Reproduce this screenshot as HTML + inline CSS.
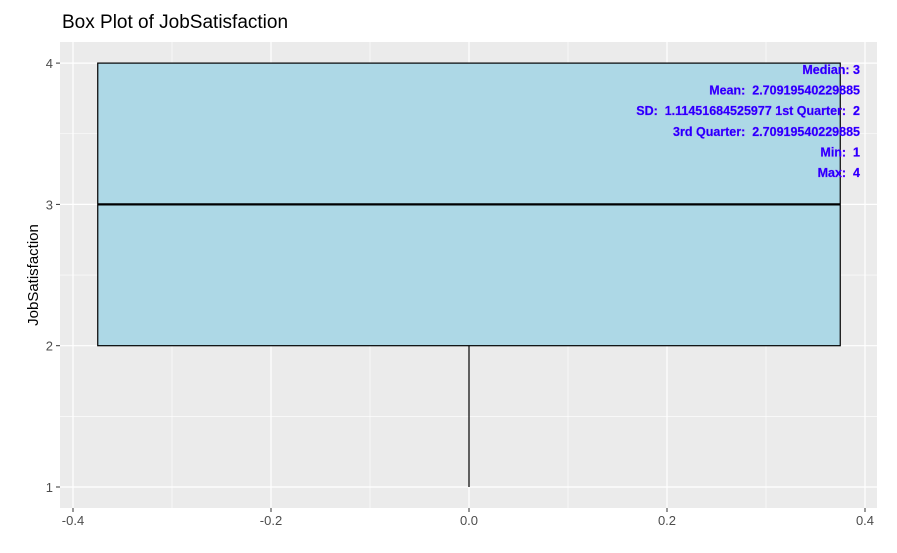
<!DOCTYPE html>
<html><head><meta charset="utf-8"><style>
body{margin:0;background:#fff;font-family:"Liberation Sans",sans-serif;}
svg text{font-family:"Liberation Sans",sans-serif;white-space:pre;}
</style></head><body>
<svg width="897" height="548" xmlns="http://www.w3.org/2000/svg">
<text x="62" y="28" font-size="19" fill="#000">Box Plot of JobSatisfaction</text>
<g id="plot"></g>
</svg>
<script>
const xTicks=[-0.4,-0.2,0,0.2,0.4];
const yTicks=[1,2,3,4];
const boxStats=[1,2,3,4,4]; // min,q1,median,q3,max
const boxX=[-0.375,0.375];
const statLabels=["Median: 3","Mean:  2.70919540229885","SD:  1.11451684525977 1st Quarter:  2","3rd Quarter:  2.70919540229885","Min:  1","Max:  4"];
const L=60,R=877,T=42,B=508;
const sx=v=>469+v*990;
const sy=v=>487-(v-1)*141.3;
const g=document.getElementById('plot');
const NS="http://www.w3.org/2000/svg";
function mk(t,a){const e=document.createElementNS(NS,t);for(const k in a)e.setAttribute(k,a[k]);g.appendChild(e);return e;}
const bg=mk('rect',{x:L,y:T,width:R-L,height:B-T,fill:'#ebebeb'});


for(let i=0;i<xTicks.length-1;i++){const m=(xTicks[i]+xTicks[i+1])/2;const l=mk('line',{x1:sx(m),x2:sx(m),y1:T,y2:B,stroke:'#fff','stroke-width':0.6});}
for(let i=0;i<yTicks.length-1;i++){const m=(yTicks[i]+yTicks[i+1])/2;const l=mk('line',{x1:L,x2:R,y1:sy(m),y2:sy(m),stroke:'#fff','stroke-width':0.6});}
xTicks.forEach(v=>{const l=mk('line',{x1:sx(v),x2:sx(v),y1:T,y2:B,stroke:'#fff','stroke-width':1.2});
const tk=mk('line',{x1:sx(v),x2:sx(v),y1:B,y2:B+4,stroke:'#333'});
const t=mk('text',{x:sx(v),y:B+17,'text-anchor':'middle','font-size':13,fill:'#4d4d4d'});t.textContent=v.toFixed(1);});
yTicks.forEach(v=>{const l=mk('line',{x1:L,x2:R,y1:sy(v),y2:sy(v),stroke:'#fff','stroke-width':1.2});
const tk=mk('line',{x1:L-4,x2:L,y1:sy(v),y2:sy(v),stroke:'#333'});
const t=mk('text',{x:L-7,y:sy(v)+5,'text-anchor':'end','font-size':13,fill:'#4d4d4d'});t.textContent=v;});
const yt=mk('text',{x:0,y:0,transform:'translate(38,275) rotate(-90)','text-anchor':'middle','font-size':15,fill:'#000'});yt.textContent='JobSatisfaction';
const wh=mk('line',{x1:sx(0),x2:sx(0),y1:sy(boxStats[0]),y2:sy(boxStats[1]),stroke:'#000','stroke-width':1.2});
const wh2=mk('line',{x1:sx(0),x2:sx(0),y1:sy(boxStats[3]),y2:sy(boxStats[4]),stroke:'#000','stroke-width':1.2});
const bx=mk('rect',{x:sx(boxX[0]),y:sy(boxStats[3]),width:sx(boxX[1])-sx(boxX[0]),height:sy(boxStats[1])-sy(boxStats[3]),fill:'#add8e6',stroke:'#000','stroke-width':1.2});
const md=mk('line',{x1:sx(boxX[0]),x2:sx(boxX[1]),y1:sy(boxStats[2]),y2:sy(boxStats[2]),stroke:'#000','stroke-width':2.2});
statLabels.forEach((s,i)=>{const t=mk('text',{x:860,y:74+i*20.6,'text-anchor':'end','font-size':12.5,'font-weight':'bold',fill:'#1a00ff',stroke:'#8000ff','stroke-width':0.3});t.textContent=s;});
</script>
</body></html>
